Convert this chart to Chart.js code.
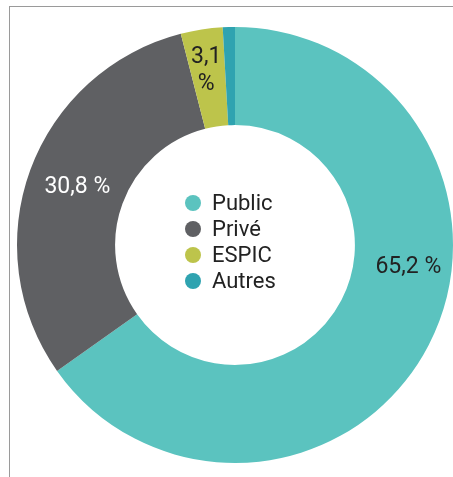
<!DOCTYPE html>
<html>
<head>
<meta charset="utf-8">
<script src="https://cdn.jsdelivr.net/npm/chart.js@4.4.0/dist/chart.umd.min.js"></script>
<style>
html,body{margin:0;padding:0;background:#fff;}
#wrap{position:relative;width:453px;height:477px;}
#frame{position:absolute;left:9px;top:6px;right:0;bottom:0;border-top:1px solid #9a9a9a;border-left:1px solid #9a9a9a;}
canvas{position:absolute;left:0;top:0;}
</style>
</head>
<body>
<div id="wrap"><div id="frame"></div><canvas id="c" width="453" height="477"></canvas></div>
<script>
const categories = ["Public", "Privé", "ESPIC", "Autres"];
const values = [65.2, 30.8, 3.1, 0.9];
const valueLabels = ["65,2 %", "30,8 %", "3,1\n%", ""];

const colors = ["#5bc3bf", "#5f6063", "#bdc44b", "#2fa3b0"];
const labelColors = ["#222222", "#ffffff", "#222222", "#222222"];
const labelAngleFrac = [0.415, 0.5, 0.45, 0.5];
const labelRadiusFrac = [0.56, 0.49, 0.58, 0.5];

const FONT = "Roboto, 'Liberation Sans', sans-serif";

const labelPlugin = {
  id: 'arcLabels',
  afterDatasetsDraw(chart) {
    const ctx = chart.ctx;
    const meta = chart.getDatasetMeta(0);
    ctx.save();
    ctx.font = "23px " + FONT;
    ctx.textAlign = "center";
    ctx.textBaseline = "middle";
    meta.data.forEach((arc, i) => {
      const txt = valueLabels[i];
      if (!txt) return;
      const p = arc.getProps(['x','y','startAngle','endAngle','innerRadius','outerRadius'], true);
      const a = p.startAngle + (p.endAngle - p.startAngle) * labelAngleFrac[i];
      const r = p.innerRadius + (p.outerRadius - p.innerRadius) * labelRadiusFrac[i];
      const cx = p.x + Math.cos(a) * r;
      const cy = p.y + Math.sin(a) * r;
      ctx.fillStyle = labelColors[i];
      const lines = txt.split("\n");
      const lh = 27;
      lines.forEach((ln, k) => {
        ctx.fillText(ln, cx, cy + (k - (lines.length - 1) / 2) * lh);
      });
    });
    // centre legend
    const m0 = meta.data[0];
    const ox = m0.x, oy = m0.y;
    const rowH = 26;
    const top = oy - 42;
    ctx.font = "22px " + FONT;
    ctx.textAlign = "left";
    categories.forEach((c, i) => {
      const y = top + i * rowH;
      ctx.beginPath();
      ctx.fillStyle = colors[i];
      ctx.arc(ox - 42, y, 8, 0, Math.PI * 2);
      ctx.fill();
      ctx.fillStyle = "#222222";
      ctx.fillText(c, ox - 23, y + 1);
    });
    ctx.restore();
  }
};

new Chart(document.getElementById('c'), {
  type: 'doughnut',
  data: {
    labels: categories,
    datasets: [{
      data: values,
      backgroundColor: colors,
      borderWidth: 0,
      hoverOffset: 0
    }]
  },
  options: {
    responsive: false,
    animation: false,
    cutout: '55%',
    layout: { padding: { left: 17, right: 0, top: 27, bottom: 14 } },
    plugins: { legend: { display: false }, tooltip: { enabled: false } }
  },
  plugins: [labelPlugin]
});
</script>
</body>
</html>
